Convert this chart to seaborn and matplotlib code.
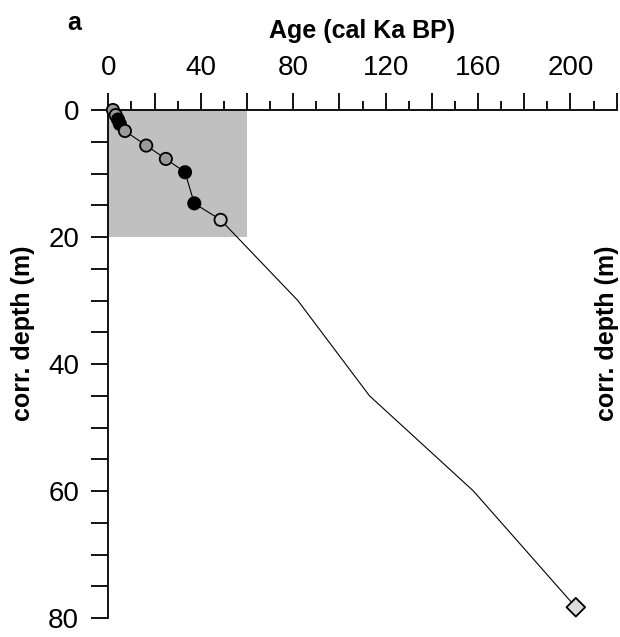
"""Age-depth model: corrected depth vs calibrated age."""

import matplotlib.pyplot as plt
import matplotlib.ticker as mticker
import pandas as pd
import seaborn as sns

# age model tie points (cal Ka BP) and corrected depth (m)
line_age = [2.0, 3.2, 4.2, 5.0, 7.2, 16.4, 24.9, 33.2, 37.2, 48.6, 82.0, 113.0, 158.0, 202.3]
line_depth = [0.0, 0.8, 1.5, 2.2, 3.3, 5.6, 7.7, 9.8, 14.7, 17.3, 30.0, 45.0, 60.0, 78.3]

# dated samples
point_age = [2.0, 3.2, 4.2, 5.0, 7.2, 16.4, 24.9, 33.2, 37.2, 48.6, 202.3]
point_depth = [0.0, 0.8, 1.5, 2.2, 3.3, 5.6, 7.7, 9.8, 14.7, 17.3, 78.3]
point_kind = ["grey", "grey", "black", "black", "grey", "grey", "grey",
              "black", "black", "light", "tie"]

# zoomed region shown in panel b
shade_age = 60
shade_depth = 20

if __name__ == "__main__":
    sns.set_style("ticks", {"axes.edgecolor": "black", "text.color": "black",
                            "xtick.color": "black", "ytick.color": "black"})
    plt.rcParams["font.family"] = ["Liberation Sans", "DejaVu Sans"]

    line_df = pd.DataFrame({"age": line_age, "depth": line_depth})
    pts_df = pd.DataFrame({"age": point_age, "depth": point_depth, "kind": point_kind})

    fig = plt.figure(figsize=(6.2, 6.37), dpi=100)
    ax = fig.add_axes([0.1747, 0.0298, 0.82, 0.7975])

    ax.fill_between([0, shade_age], 0, shade_depth, color="#c0c0c0", lw=0, zorder=0)

    sns.lineplot(data=line_df, x="age", y="depth", sort=False, estimator=None,
                 color="black", lw=0.8, ax=ax, zorder=2)

    palette = {"grey": "#9a9a9a", "black": "black", "light": "#c4c4c4", "tie": "#dcdcdc"}
    markers = {"grey": "o", "black": "o", "light": "o", "tie": "D"}
    sizes = {"grey": 78, "black": 78, "light": 78, "tie": 90}
    sns.scatterplot(data=pts_df, x="age", y="depth", hue="kind", style="kind",
                    size="kind", palette=palette, markers=markers, sizes=sizes,
                    edgecolor="black", linewidth=1.3, legend=False, ax=ax,
                    zorder=3, clip_on=False)

    ax.set_xlim(0, 220)
    ax.set_ylim(80, 0)

    # axes on top and left only
    sns.despine(ax=ax, top=False, right=True, bottom=True, left=False)
    for side in ["top", "left"]:
        ax.spines[side].set_linewidth(1.3)
    ax.xaxis.tick_top()
    ax.xaxis.set_label_position("top")

    ax.xaxis.set_major_locator(mticker.MultipleLocator(20))
    ax.xaxis.set_minor_locator(mticker.MultipleLocator(10))
    ax.xaxis.set_major_formatter(
        mticker.FuncFormatter(lambda v, p: f"{v:.0f}" if v % 40 == 0 else ""))
    ax.yaxis.set_major_locator(mticker.MultipleLocator(5))
    ax.yaxis.set_major_formatter(
        mticker.FuncFormatter(lambda v, p: f"{v:.0f}" if v % 20 == 0 else ""))

    ax.tick_params(axis="x", which="major", direction="out", length=12, width=1.3,
                   labelsize=20, pad=9, colors="black")
    ax.tick_params(axis="x", which="minor", direction="out", length=6.5, width=1.3,
                   colors="black")
    ax.tick_params(axis="y", which="major", direction="out", length=12, width=1.3,
                   labelsize=20, pad=9, colors="black")

    ax.set_xlabel("Age (cal Ka BP)", fontsize=18, fontweight="bold", labelpad=12,
                  color="black")
    ax.set_ylabel("")
    ax.set_facecolor("none")

    fig.text(23 / 620, 1 - 333 / 637, "corr. depth (m)", rotation=90, ha="center",
             va="center", fontsize=18, fontweight="bold", color="black")
    fig.text(607 / 620, 1 - 333 / 637, "corr. depth (m)", rotation=90, ha="center",
             va="center", fontsize=18, fontweight="bold", color="black")
    fig.text(74 / 620, 1 - 30 / 637, "a", ha="center", va="baseline",
             fontsize=18, fontweight="bold", color="black")

    plt.savefig("out.png", dpi=100)
